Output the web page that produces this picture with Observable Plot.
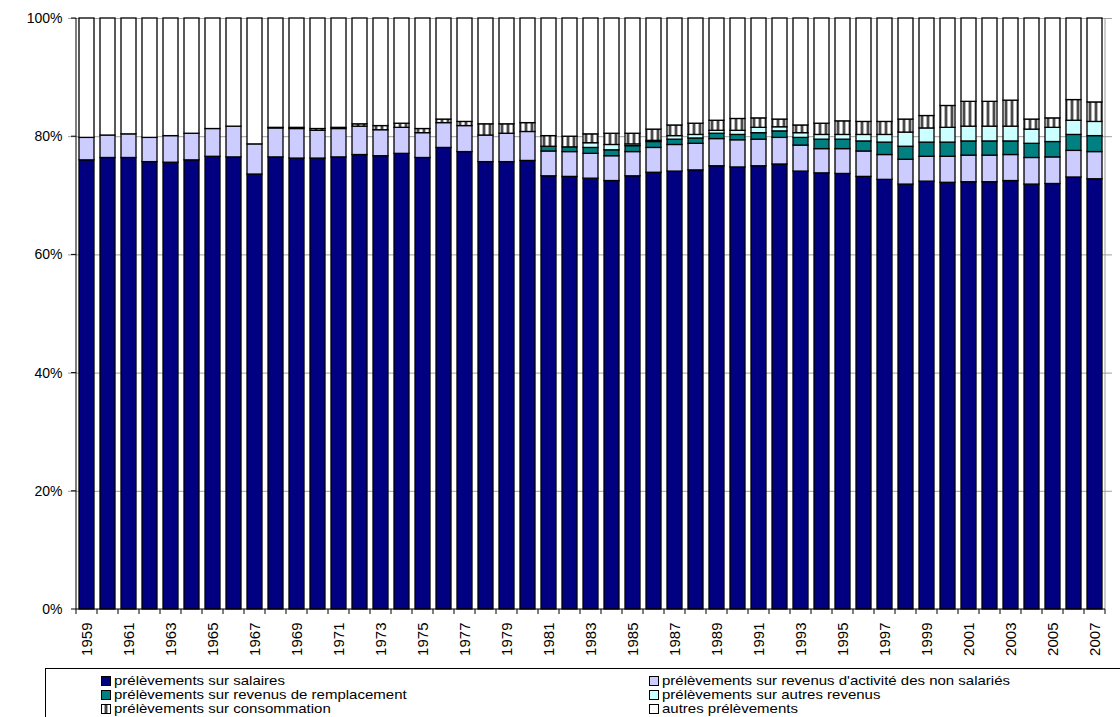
<!DOCTYPE html>
<html>
<head>
<meta charset="utf-8">
<script src="https://cdn.jsdelivr.net/npm/d3@7"></script>
<script src="https://cdn.jsdelivr.net/npm/@observablehq/plot@0.6"></script>
<style>
  html, body { margin: 0; padding: 0; background: #fff; }
  #wrap { position: relative; width: 1120px; height: 717px; overflow: hidden; font-family: "Liberation Sans", Arial, sans-serif; }
  #legend { position: absolute; left: 45px; top: 668px; width: 1100px; height: 70px; border: 1px solid #000; box-sizing: border-box; font-size: 15px; color: #000; }
  .item { position: absolute; display: flex; align-items: center; white-space: nowrap; height: 13px; line-height: 13px; }
  .sw { width: 10px; height: 10px; border: 1px solid #000; box-sizing: border-box; margin-right: 3px; flex: none; }
  .tx { display: inline-block; transform: scaleY(0.8); transform-origin: 50% 50%; }
</style>
</head>
<body>
<div id="wrap"><div id="chart"></div><div id="legend"></div></div>
<script>
const years = [1959,1960,1961,1962,1963,1964,1965,1966,1967,1968,1969,1970,1971,1972,1973,1974,1975,1976,1977,1978,1979,1980,1981,1982,1983,1984,1985,1986,1987,1988,1989,1990,1991,1992,1993,1994,1995,1996,1997,1998,1999,2000,2001,2002,2003,2004,2005,2006,2007];
const categories = [
  "prélèvements sur salaires",
  "prélèvements sur revenus d'activité des non salariés",
  "prélèvements sur revenus de remplacement",
  "prélèvements sur autres revenus",
  "prélèvements sur consommation",
  "autres prélèvements"
];
const salaires = [76.0,76.4,76.4,75.7,75.6,76.0,76.6,76.5,73.6,76.5,76.3,76.3,76.5,76.9,76.7,77.1,76.4,78.1,77.4,75.7,75.7,75.9,73.3,73.2,72.9,72.5,73.3,73.9,74.1,74.3,75.0,74.8,75.0,75.3,74.1,73.8,73.7,73.2,72.7,71.9,72.4,72.2,72.3,72.3,72.5,71.9,72.0,73.1,72.8];
const nonSalaries = [3.8,3.8,4.0,4.1,4.5,4.5,4.7,5.2,5.1,4.9,5.0,4.7,4.8,4.8,4.4,4.4,4.2,4.2,4.4,4.5,4.8,4.9,4.2,4.2,4.2,4.2,4.1,4.2,4.5,4.5,4.6,4.6,4.5,4.5,4.4,4.1,4.2,4.3,4.2,4.2,4.2,4.4,4.5,4.5,4.4,4.5,4.5,4.5,4.6];
const remplacement = [0,0,0,0,0,0,0,0,0,0,0,0,0,0,0,0,0,0,0,0,0,0,0.8,0.8,1.0,1.0,1.0,1.0,0.9,0.9,0.9,0.9,1.1,1.1,1.3,1.6,1.6,1.7,2.1,2.2,2.4,2.4,2.4,2.4,2.3,2.4,2.6,2.7,2.7];
const autresRevenus = [0,0,0,0,0,0,0,0,0,0,0,0,0,0,0,0,0,0,0,0,0,0,0,0,0.8,0.9,0.3,0.2,0.6,0.6,0.5,0.7,0.9,0.7,0.8,0.8,0.8,1.1,1.3,2.4,2.4,2.5,2.5,2.5,2.5,2.4,2.4,2.4,2.4];
const consommation = [0,0,0,0,0,0,0,0,0,0.1,0.2,0.3,0.2,0.4,0.7,0.7,0.7,0.6,0.7,1.9,1.6,1.5,1.8,1.8,1.5,1.9,1.8,1.9,1.8,1.9,1.7,2.0,1.6,1.3,1.3,1.9,2.3,2.2,2.2,2.2,2.1,3.7,4.2,4.2,4.4,1.7,1.6,3.5,3.3];
const autresPrelevements = [20.2,19.8,19.6,20.2,19.9,19.5,18.7,18.3,21.3,18.5,18.5,18.7,18.5,17.9,18.2,17.8,18.7,17.1,17.5,17.9,17.9,17.7,19.9,20.0,19.6,19.5,19.5,18.8,18.1,17.8,17.3,17.0,16.9,17.1,18.1,17.8,17.4,17.5,17.5,17.1,16.5,14.8,14.1,14.1,13.9,17.1,16.9,13.8,14.2];
const yTicks = [0,20,40,60,80,100];
const labelYears = years.filter((y, i) => i % 2 === 0);

const colors = ["#000080", "#CCCCFF", "#008080", "#CCFFFF", "url(#stripes)", "#FFFFFF"];
const series = [salaires, nonSalaries, remplacement, autresRevenus, consommation, autresPrelevements];

const data = [];
years.forEach((year, i) => {
  categories.forEach((cat, k) => {
    const v = series[k][i];
    if (v > 0) data.push({year, cat, value: v});
  });
});

const svgNS = "http://www.w3.org/2000/svg";
function el(name, attrs) {
  const e = document.createElementNS(svgNS, name);
  for (const k in attrs) e.setAttribute(k, attrs[k]);
  return e;
}

function patternDefs() {
  const g = el("g", {});
  const defs = el("defs", {});
  const p = el("pattern", {id: "stripes", patternUnits: "userSpaceOnUse", width: 6, height: 6});
  const cols = ["#ffffff", "#ffffff", "#b4b4b4", "#4a4a4a", "#4a4a4a", "#b4b4b4"];
  cols.forEach((c, i) => p.appendChild(el("rect", {x: i, y: 0, width: 1, height: 6, fill: c})));
  defs.appendChild(p);
  g.appendChild(defs);
  return g;
}

function axes(index, scales, values, dim) {
  const g = el("g", {});
  const x = scales.x, y = scales.y;
  const step = x(years[1]) - x(years[0]);
  const bw = (scales.scales && scales.scales.x && scales.scales.x.bandwidth) || step * 0.7;
  const gap = step - bw;
  const y0 = y(0), y1 = y(100);
  const left = x(years[0]) - gap / 2;
  const right = x(years[years.length - 1]) + bw + gap / 2;
  g.appendChild(el("line", {x1: right, x2: right, y1: y1, y2: y0, stroke: "#9a9a9a", "stroke-width": 1}));
  g.appendChild(el("line", {x1: left, x2: left, y1: y1, y2: y0, stroke: "#000", "stroke-width": 1}));
  yTicks.forEach(t => g.appendChild(el("line", {x1: left - 5, x2: left, y1: y(t), y2: y(t), stroke: "#000"})));
  g.appendChild(el("line", {x1: left, x2: right, y1: y0, y2: y0, stroke: "#000", "stroke-width": 1}));
  years.forEach(yr => {
    const bx = x(yr) - gap / 2;
    g.appendChild(el("line", {x1: bx, x2: bx, y1: y0, y2: y0 + 5, stroke: "#000"}));
  });
  g.appendChild(el("line", {x1: right, x2: right, y1: y0, y2: y0 + 5, stroke: "#000"}));
  return g;
}

const chart = Plot.plot({
  width: 1120,
  height: 664,
  marginTop: 18,
  marginBottom: 55,
  marginLeft: 68,
  marginRight: 8,
  style: {fontFamily: "'Liberation Sans', Arial, sans-serif", fontSize: "14px", background: "#fff", color: "#000"},
  x: {domain: years, paddingInner: 0.3, paddingOuter: 0.15, label: null},
  y: {domain: [0, 100], label: null},
  color: {domain: categories, range: colors},
  marks: [
    patternDefs,
    Plot.gridY(yTicks.slice(1), {stroke: "#a0a0a0", strokeOpacity: 1}),
    Plot.barY(data, {x: "year", y: "value", fill: "cat", stroke: "#000", strokeWidth: 1.3}),
    Plot.axisY(yTicks, {tickFormat: d => d + "%", tickSize: 0, tickPadding: 6, fontSize: 14}),
    Plot.axisX(labelYears, {tickRotate: -90, tickSize: 0, tickPadding: 13, fontSize: 15, tickFormat: d => String(d)}),
    axes
  ]
});
document.getElementById("chart").appendChild(chart);

const legend = document.getElementById("legend");
const swatchBg = [
  "#000080", "#CCCCFF", "#008080", "#CCFFFF",
  "repeating-linear-gradient(90deg, #fff 0 2px, #aaa 2px 3px, #444 3px 5px, #aaa 5px 6px)",
  "#FFFFFF"
];
categories.forEach((cat, k) => {
  const col = k % 2, row = Math.floor(k / 2);
  const item = document.createElement("div");
  item.className = "item";
  item.style.left = (col === 0 ? 55 : 603) + "px";
  item.style.top = (5 + row * 14) + "px";
  const sw = document.createElement("span");
  sw.className = "sw";
  sw.style.background = swatchBg[k];
  const tx = document.createElement("span");
  tx.className = "tx";
  tx.textContent = cat;
  item.appendChild(sw);
  item.appendChild(tx);
  legend.appendChild(item);
});
</script>
</body>
</html>
